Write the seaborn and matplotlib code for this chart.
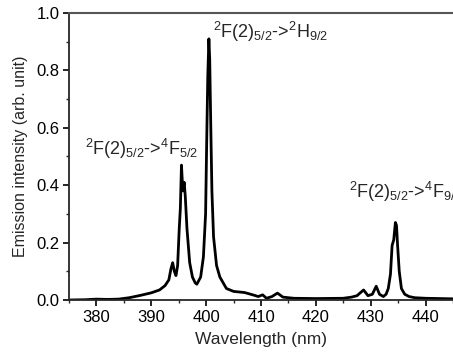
import matplotlib
matplotlib.use("Agg")
import matplotlib.pyplot as plt
import seaborn as sns
import pandas as pd
from matplotlib.ticker import MultipleLocator

wavelength = [375, 378, 380, 382, 384, 386, 388, 390, 391.5, 392.5, 393.2, 393.6, 393.9,
              394.2, 394.5, 394.8, 395.1, 395.3, 395.5, 395.75, 396.0, 396.2, 396.5,
              397.0, 397.5, 398.0, 398.3, 399.0, 399.5, 399.9, 400.1, 400.3, 400.5,
              400.65, 400.85, 401.05, 401.35, 401.9, 402.5, 403.7, 405, 407, 408.5, 409.5,
              410.3, 411, 412, 413, 414, 416, 420, 425, 426.5, 427.5, 428.7, 429.5,
              430.3, 431.0, 431.6, 432.3, 432.8, 433.2, 433.6, 433.9, 434.2, 434.5,
              434.7, 434.9, 435.2, 435.6, 436.2, 437, 438, 440, 445]
intensity = [0.0, 0.001, 0.003, 0.002, 0.003, 0.008, 0.016, 0.025, 0.035, 0.05, 0.07, 0.11, 0.13,
             0.10, 0.085, 0.12, 0.25, 0.32, 0.47, 0.38, 0.41, 0.36, 0.25,
             0.13, 0.08, 0.06, 0.055, 0.08, 0.15, 0.30, 0.55, 0.78, 0.91,
             0.84, 0.60, 0.38, 0.22, 0.12, 0.08, 0.04, 0.03, 0.026, 0.018, 0.012,
             0.018, 0.006, 0.012, 0.024, 0.01, 0.006, 0.005, 0.006, 0.01, 0.015, 0.035, 0.015,
             0.02, 0.048, 0.02, 0.012, 0.02, 0.04, 0.09, 0.19, 0.21, 0.27,
             0.26, 0.19, 0.10, 0.04, 0.02, 0.012, 0.008, 0.006, 0.004]

xticks = [380, 390, 400, 410, 420, 430, 440]
yticks = [0.0, 0.2, 0.4, 0.6, 0.8, 1.0]

df = pd.DataFrame({"wl": wavelength, "I": intensity})

sns.set_style("ticks")
plt.rcParams['font.family'] = ['Liberation Sans', 'DejaVu Sans']
plt.rcParams['mathtext.fontset'] = 'custom'
plt.rcParams['mathtext.rm'] = 'Liberation Sans'

fig = plt.figure(figsize=(4.53, 3.6), dpi=100)
ax = fig.add_axes([69/453, 1 - 300/360, 1 - 69/453, (300 - 13)/360])
sns.lineplot(data=df, x="wl", y="I", ax=ax, color="black", linewidth=2.0)

ax.set_xlim(375, 445)
ax.set_ylim(0.0, 1.0)
ax.set_xticks(xticks)
ax.set_yticks(yticks)
ax.set_yticklabels([f"{v:.1f}" for v in yticks])
ax.xaxis.set_minor_locator(MultipleLocator(5))
ax.yaxis.set_minor_locator(MultipleLocator(0.1))
ax.tick_params(axis="both", which="major", direction="out", length=4, width=1.2,
               labelsize=12, colors="black", pad=3)
ax.tick_params(axis="both", which="minor", direction="out", length=2.5, width=1.0)
ax.spines["right"].set_visible(False)
ax.spines["left"].set_linewidth(1.3)
ax.spines["bottom"].set_linewidth(1.3)
ax.spines["top"].set_linewidth(1.5)
ax.spines["top"].set_color("#555555")
ax.set_xlabel("Wavelength (nm)", fontsize=12.5, labelpad=5)
ax.set_ylabel("Emission intensity (arb. unit)", fontsize=11.5, labelpad=6)

ax.text(377.9, 0.505, r"$^2$F(2)$_{5/2}$->$^4$F$_{5/2}$", fontsize=13)
ax.text(401.2, 0.913, r"$^2$F(2)$_{5/2}$->$^2$H$_{9/2}$", fontsize=13)
ax.text(426.1, 0.355, r"$^2$F(2)$_{5/2}$->$^4$F$_{9/2}$", fontsize=13)

fig.savefig("out.png", dpi=100)
